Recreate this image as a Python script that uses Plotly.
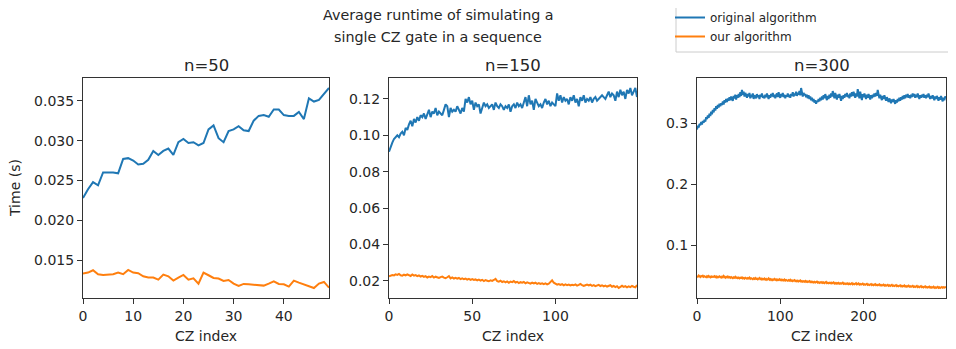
import plotly.graph_objects as go

W, H = 956, 349

# ---------------- data ----------------
idx_50 = list(range(50))
idx_150 = list(range(150))
idx_300 = list(range(300))

orig_50 = [0.0228, 0.0239, 0.0248, 0.0244, 0.0260, 0.0260, 0.0260, 0.0259, 0.0277, 0.0278,
           0.0275, 0.0270, 0.0271, 0.0276, 0.0287, 0.0282, 0.0287, 0.0290, 0.0282, 0.0298,
           0.0302, 0.0297, 0.0298, 0.0294, 0.0297, 0.0314, 0.0319, 0.0303, 0.0298, 0.0312,
           0.0314, 0.0318, 0.0313, 0.0312, 0.0325, 0.0331, 0.0332, 0.0330, 0.0339, 0.0339,
           0.0332, 0.0331, 0.0331, 0.0336, 0.0327, 0.0353, 0.0349, 0.0351, 0.0358, 0.0366]
ours_50 = [0.01332, 0.01345, 0.01374, 0.01324, 0.01315, 0.01315, 0.01324, 0.01345, 0.01324, 0.01378,
           0.01345, 0.01336, 0.01298, 0.01282, 0.01282, 0.01256, 0.01319, 0.01298, 0.01244, 0.01282,
           0.01315, 0.01256, 0.01273, 0.01206, 0.01345, 0.01311, 0.01277, 0.01269, 0.01239, 0.01252,
           0.01206, 0.01176, 0.01202, 0.01197, 0.01189, 0.01181, 0.01181, 0.01206, 0.01235, 0.01202,
           0.01197, 0.01168, 0.01244, 0.01218, 0.01197, 0.01176, 0.01151, 0.01206, 0.01227, 0.01155]

orig_150 = [0.091, 0.094, 0.096, 0.098, 0.099, 0.100, 0.099, 0.101, 0.102, 0.100,
            0.104, 0.103, 0.106, 0.108, 0.105, 0.109, 0.107, 0.110, 0.108, 0.111,
            0.110, 0.112, 0.109, 0.111, 0.114, 0.110, 0.113, 0.112, 0.115, 0.111,
            0.113, 0.112, 0.111, 0.114, 0.117, 0.116, 0.110, 0.115, 0.113, 0.114,
            0.113, 0.116, 0.114, 0.112, 0.115, 0.113, 0.120, 0.118, 0.121, 0.117,
            0.119, 0.114, 0.118, 0.116, 0.117, 0.112, 0.115, 0.118, 0.116, 0.117,
            0.115, 0.116, 0.117, 0.114, 0.118, 0.116, 0.115, 0.117, 0.116, 0.114,
            0.116, 0.115, 0.117, 0.113, 0.116, 0.117, 0.115, 0.118, 0.116, 0.117,
            0.115, 0.118, 0.121, 0.116, 0.122, 0.117, 0.119, 0.114, 0.120, 0.118,
            0.116, 0.117, 0.115, 0.118, 0.120, 0.117, 0.119, 0.116, 0.118, 0.117,
            0.116, 0.123, 0.119, 0.122, 0.118, 0.121, 0.119, 0.120, 0.117, 0.121,
            0.119, 0.122, 0.118, 0.120, 0.116, 0.121, 0.119, 0.122, 0.118, 0.120,
            0.119, 0.121, 0.118, 0.120, 0.121, 0.119, 0.120, 0.121, 0.122, 0.121,
            0.120, 0.122, 0.124, 0.121, 0.123, 0.122, 0.119, 0.124, 0.121, 0.125,
            0.122, 0.124, 0.120, 0.125, 0.123, 0.126, 0.122, 0.124, 0.126, 0.121]
ours_150 = [0.0225, 0.0228, 0.0232, 0.0230, 0.0236, 0.0233, 0.0238, 0.0231, 0.0229, 0.0234,
            0.0230, 0.0236, 0.0232, 0.0227, 0.0235, 0.0229, 0.0232, 0.0226, 0.0230, 0.0224,
            0.0228, 0.0222, 0.0226, 0.0219, 0.0224, 0.0221, 0.0227, 0.0218, 0.0223, 0.0220,
            0.0216, 0.0221, 0.0224, 0.0218, 0.0215, 0.0220, 0.0226, 0.0214, 0.0219, 0.0213,
            0.0217, 0.0212, 0.0216, 0.0210, 0.0214, 0.0209, 0.0213, 0.0207, 0.0211, 0.0206,
            0.0210, 0.0205, 0.0208, 0.0203, 0.0207, 0.0202, 0.0206, 0.0199, 0.0204, 0.0201,
            0.0198, 0.0203, 0.0200, 0.0205, 0.0211, 0.0199, 0.0196, 0.0201, 0.0194, 0.0198,
            0.0192, 0.0197, 0.0190, 0.0196, 0.0193, 0.0199, 0.0191, 0.0195, 0.0188, 0.0193,
            0.0190, 0.0194, 0.0187, 0.0192, 0.0189, 0.0185, 0.0191, 0.0186, 0.0190, 0.0184,
            0.0188, 0.0183, 0.0187, 0.0182, 0.0186, 0.0181, 0.0185, 0.0196, 0.0203, 0.0190,
            0.0184, 0.0179, 0.0183, 0.0178, 0.0182, 0.0176, 0.0181, 0.0177, 0.0180, 0.0175,
            0.0179, 0.0176, 0.0181, 0.0174, 0.0178, 0.0183, 0.0177, 0.0172, 0.0176, 0.0180,
            0.0175, 0.0179, 0.0173, 0.0177, 0.0171, 0.0175, 0.0178, 0.0172, 0.0176, 0.0170,
            0.0174, 0.0169, 0.0173, 0.0176, 0.0168, 0.0172, 0.0166, 0.0171, 0.0161, 0.0169,
            0.0173, 0.0167, 0.0171, 0.0165, 0.0170, 0.0166, 0.0172, 0.0168, 0.0165, 0.0177]

orig_300 = [0.290, 0.296, 0.293, 0.299, 0.297, 0.302, 0.298, 0.304, 0.301, 0.306,
            0.303, 0.310, 0.307, 0.313, 0.309, 0.316, 0.312, 0.319, 0.315, 0.322,
            0.318, 0.325, 0.321, 0.328, 0.324, 0.330, 0.326, 0.332, 0.328, 0.333,
            0.330, 0.336, 0.331, 0.338, 0.334, 0.340, 0.335, 0.341, 0.337, 0.343,
            0.338, 0.344, 0.340, 0.337, 0.345, 0.341, 0.347, 0.339, 0.346, 0.342,
            0.348, 0.343, 0.351, 0.345, 0.355, 0.347, 0.352, 0.344, 0.350, 0.346,
            0.342, 0.348, 0.344, 0.350, 0.341, 0.347, 0.343, 0.349, 0.340, 0.346,
            0.344, 0.341, 0.348, 0.343, 0.346, 0.340, 0.347, 0.344, 0.349, 0.342,
            0.345, 0.341, 0.347, 0.343, 0.349, 0.344, 0.340, 0.346, 0.342, 0.348,
            0.344, 0.350, 0.343, 0.347, 0.341, 0.346, 0.349, 0.343, 0.351, 0.345,
            0.342, 0.348, 0.344, 0.350, 0.343, 0.347, 0.341, 0.346, 0.344, 0.349,
            0.343, 0.347, 0.342, 0.348, 0.345, 0.351, 0.344, 0.349, 0.346, 0.352,
            0.345, 0.350, 0.347, 0.353, 0.346, 0.358, 0.349, 0.344, 0.350, 0.346,
            0.348, 0.343, 0.347, 0.341, 0.346, 0.340, 0.344, 0.338, 0.342, 0.336,
            0.340, 0.334, 0.338, 0.332, 0.337, 0.335, 0.340, 0.336, 0.342, 0.338,
            0.344, 0.339, 0.346, 0.341, 0.348, 0.343, 0.338, 0.345, 0.340, 0.347,
            0.342, 0.349, 0.344, 0.353, 0.346, 0.341, 0.350, 0.344, 0.339, 0.347,
            0.342, 0.348, 0.343, 0.337, 0.345, 0.340, 0.346, 0.342, 0.348, 0.344,
            0.350, 0.343, 0.347, 0.341, 0.349, 0.344, 0.351, 0.345, 0.352, 0.346,
            0.342, 0.349, 0.344, 0.356, 0.347, 0.341, 0.352, 0.345, 0.338, 0.348,
            0.343, 0.349, 0.344, 0.340, 0.347, 0.342, 0.348, 0.343, 0.339, 0.346,
            0.341, 0.347, 0.343, 0.349, 0.344, 0.350, 0.345, 0.355, 0.346, 0.341,
            0.347, 0.342, 0.338, 0.345, 0.340, 0.346, 0.341, 0.337, 0.343, 0.339,
            0.335, 0.341, 0.337, 0.333, 0.339, 0.335, 0.340, 0.336, 0.332, 0.338,
            0.334, 0.340, 0.336, 0.342, 0.337, 0.343, 0.339, 0.345, 0.340, 0.346,
            0.341, 0.347, 0.343, 0.348, 0.342, 0.346, 0.341, 0.347, 0.343, 0.349,
            0.344, 0.348, 0.342, 0.347, 0.343, 0.349, 0.344, 0.340, 0.346, 0.342,
            0.347, 0.343, 0.348, 0.342, 0.346, 0.341, 0.347, 0.343, 0.349, 0.344,
            0.340, 0.345, 0.341, 0.346, 0.342, 0.338, 0.344, 0.340, 0.345, 0.341,
            0.337, 0.343, 0.339, 0.345, 0.340, 0.336, 0.342, 0.338, 0.344, 0.341]
ours_300 = [0.0495, 0.0482, 0.0501, 0.0488, 0.0476, 0.0493, 0.0485, 0.0498, 0.0479, 0.0490,
            0.0484, 0.0472, 0.0489, 0.0477, 0.0493, 0.0480, 0.0470, 0.0486, 0.0475, 0.0483,
            0.0478, 0.0491, 0.0474, 0.0485, 0.0469, 0.0481, 0.0473, 0.0488, 0.0476, 0.0467,
            0.0482, 0.0471, 0.0495, 0.0476, 0.0465, 0.0479, 0.0470, 0.0484, 0.0468, 0.0477,
            0.0463, 0.0475, 0.0469, 0.0458, 0.0472, 0.0464, 0.0479, 0.0461, 0.0470, 0.0457,
            0.0468, 0.0455, 0.0466, 0.0459, 0.0471, 0.0453, 0.0462, 0.0450, 0.0465, 0.0456,
            0.0449, 0.0461, 0.0452, 0.0467, 0.0447, 0.0458, 0.0451, 0.0440, 0.0455, 0.0446,
            0.0459, 0.0443, 0.0452, 0.0437, 0.0449, 0.0461, 0.0441, 0.0450, 0.0435, 0.0447,
            0.0438, 0.0451, 0.0433, 0.0445, 0.0429, 0.0440, 0.0454, 0.0432, 0.0443, 0.0427,
            0.0439, 0.0425, 0.0436, 0.0446, 0.0428, 0.0437, 0.0422, 0.0434, 0.0426, 0.0441,
            0.0424, 0.0433, 0.0419, 0.0430, 0.0421, 0.0435, 0.0417, 0.0428, 0.0420, 0.0413,
            0.0426, 0.0415, 0.0430, 0.0412, 0.0422, 0.0409, 0.0419, 0.0427, 0.0408, 0.0416,
            0.0405, 0.0418, 0.0403, 0.0413, 0.0421, 0.0402, 0.0411, 0.0398, 0.0408, 0.0400,
            0.0412, 0.0396, 0.0405, 0.0393, 0.0403, 0.0410, 0.0391, 0.0401, 0.0389, 0.0398,
            0.0387, 0.0397, 0.0385, 0.0394, 0.0402, 0.0383, 0.0392, 0.0380, 0.0390, 0.0381,
            0.0393, 0.0378, 0.0388, 0.0376, 0.0386, 0.0395, 0.0375, 0.0384, 0.0373, 0.0382,
            0.0374, 0.0385, 0.0371, 0.0380, 0.0390, 0.0369, 0.0378, 0.0367, 0.0377, 0.0368,
            0.0379, 0.0366, 0.0375, 0.0364, 0.0373, 0.0383, 0.0363, 0.0372, 0.0361, 0.0370,
            0.0362, 0.0374, 0.0360, 0.0369, 0.0358, 0.0367, 0.0377, 0.0357, 0.0366, 0.0356,
            0.0365, 0.0375, 0.0354, 0.0363, 0.0371, 0.0353, 0.0362, 0.0351, 0.0360, 0.0368,
            0.0350, 0.0359, 0.0348, 0.0357, 0.0366, 0.0347, 0.0355, 0.0345, 0.0354, 0.0362,
            0.0344, 0.0353, 0.0342, 0.0351, 0.0360, 0.0341, 0.0350, 0.0339, 0.0348, 0.0357,
            0.0338, 0.0347, 0.0336, 0.0345, 0.0353, 0.0335, 0.0344, 0.0333, 0.0342, 0.0350,
            0.0332, 0.0341, 0.0330, 0.0339, 0.0347, 0.0329, 0.0338, 0.0327, 0.0336, 0.0344,
            0.0326, 0.0335, 0.0324, 0.0333, 0.0341, 0.0323, 0.0332, 0.0321, 0.0330, 0.0338,
            0.0320, 0.0329, 0.0318, 0.0327, 0.0335, 0.0317, 0.0326, 0.0315, 0.0324, 0.0332,
            0.0314, 0.0323, 0.0312, 0.0321, 0.0330, 0.0311, 0.0320, 0.0309, 0.0318, 0.0326,
            0.0308, 0.0317, 0.0306, 0.0315, 0.0324, 0.0305, 0.0314, 0.0303, 0.0312, 0.0320,
            0.0302, 0.0311, 0.0300, 0.0309, 0.0318, 0.0299, 0.0308, 0.0297, 0.0306, 0.0314,
            0.0298, 0.0307, 0.0296, 0.0305, 0.0313, 0.0300, 0.0309, 0.0302, 0.0311, 0.0316]

panel_titles = ["n=50", "n=150", "n=300"]
series_names = ["original algorithm", "our algorithm"]
xtick_vals = [[0, 10, 20, 30, 40], [0, 50, 100], [0, 100, 200]]
ytick_vals = [[0.015, 0.020, 0.025, 0.030, 0.035],
              [0.02, 0.04, 0.06, 0.08, 0.10, 0.12],
              [0.1, 0.2, 0.3]]
ytick_fmt = [".3f", ".2f", ".1f"]
suptitle_lines = ["Average runtime of simulating a", "single CZ gate in a sequence"]
xlabel = "CZ index"
ylabel = "Time (s)"

# ---------------- layout helpers ----------------
BLUE, ORANGE = "#1f77b4", "#ff7f0e"
FONT = "DejaVu Sans"
TXT = "#262626"
OFF = 8  # the page body's default margin shifts the figure by this much

def px_x(p):
    return (p - OFF) / W

def px_y(p):
    return 1 - (p - OFF) / H

panel_px = [(83, 329), (389, 637), (697, 946)]
ydom = [px_y(298), px_y(78)]

panels = [(idx_50, orig_50, ours_50), (idx_150, orig_150, ours_150), (idx_300, orig_300, ours_300)]

fig = go.Figure()
annotations = []
for k, (xs, o, u) in enumerate(panels):
    ax = "" if k == 0 else str(k + 1)
    fig.add_trace(go.Scatter(x=xs, y=o, mode="lines", name=series_names[0],
                             line=dict(color=BLUE, width=2), xaxis="x" + ax, yaxis="y" + ax,
                             showlegend=(k == 0), legendgroup="o"))
    fig.add_trace(go.Scatter(x=xs, y=u, mode="lines", name=series_names[1],
                             line=dict(color=ORANGE, width=2), xaxis="x" + ax, yaxis="y" + ax,
                             showlegend=(k == 0), legendgroup="u"))
    allv = o + u
    lo, hi = min(allv), max(allv)
    pad = 0.05 * (hi - lo)
    x0, x1 = panel_px[k]
    common = dict(showgrid=False, zeroline=False, showline=True, linecolor="#333333",
                  linewidth=1, mirror=True, ticks="outside", ticklen=5, tickwidth=1,
                  tickcolor="#333333", automargin=False,
                  tickfont=dict(family=FONT, size=14, color=TXT))
    fig.update_layout(**{
        "xaxis" + ax: dict(domain=[px_x(x0), px_x(x1)], range=[xs[0], xs[-1]],
                           anchor="y" + ax, tickvals=xtick_vals[k], **common),
        "yaxis" + ax: dict(domain=ydom, range=[lo - pad, hi + pad], anchor="x" + ax,
                           tickvals=ytick_vals[k], tickformat=ytick_fmt[k], **common),
    })
    annotations.append(dict(text=panel_titles[k], x=px_x((x0 + x1) / 2), y=px_y(65),
                            xref="paper", yref="paper", showarrow=False, xanchor="center",
                            yanchor="middle", font=dict(family=FONT, size=16.5, color=TXT)))
    annotations.append(dict(text=xlabel, x=px_x((x0 + x1) / 2), y=px_y(336),
                            xref="paper", yref="paper", showarrow=False, xanchor="center",
                            yanchor="middle", font=dict(family=FONT, size=14, color=TXT)))

annotations.append(dict(text=ylabel, x=px_x(15), y=px_y(188), xref="paper", yref="paper",
                        showarrow=False, textangle=-90, xanchor="center", yanchor="middle",
                        font=dict(family=FONT, size=14, color=TXT)))
for i, line in enumerate(suptitle_lines):
    annotations.append(dict(text=line, x=px_x(438), y=px_y(15 + 22 * i), xref="paper",
                            yref="paper", showarrow=False, xanchor="center", yanchor="middle",
                            font=dict(family=FONT, size=14.3, color=TXT)))

# legend frame (extends past the right edge like the reference)
shapes = [dict(type="rect", xref="paper", yref="paper",
               x0=px_x(676), x1=px_x(975), y0=px_y(52), y1=px_y(1),
               line=dict(color="#cccccc", width=1), fillcolor="white", layer="below")]

fig.update_layout(
    width=W, height=H, margin=dict(l=0, r=0, t=0, b=0, autoexpand=False),
    paper_bgcolor="white", plot_bgcolor="white",
    annotations=annotations, shapes=shapes,
    legend=dict(x=px_x(670), y=px_y(3), xanchor="left", yanchor="top",
                bgcolor="rgba(0,0,0,0)", borderwidth=0,
                font=dict(family=FONT, size=12, color=TXT), tracegroupgap=0,
                itemwidth=30),
)

fig.write_html("out.html")
